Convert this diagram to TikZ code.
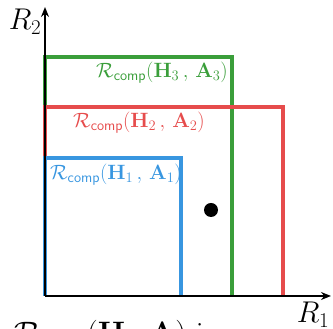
\RequirePackage{fix-cm}
\documentclass[tikz,border=0pt]{standalone}
\usepackage{amsmath}
\definecolor{cgreen}{RGB}{58,158,58}
\definecolor{cred}{RGB}{230,76,76}
\definecolor{cblue}{RGB}{56,150,224}
\tikzset{
  region/.style={line width=4.5pt},
  axis/.style={line width=1.8pt,-{Stealth[length=10pt,width=8pt]}},
  lab/.style={inner sep=0pt,font=\fontsize{20.7}{23}\selectfont},
}
\usetikzlibrary{arrows.meta}
\newcommand{\rcomp}[2]{$\mathcal{R}_{\textsf{comp}}(\mathbf{H}_{#1}\,,\,\mathbf{A}_{#2})$}
\begin{document}
\begin{tikzpicture}[x=1pt,y=1pt]
\useasboundingbox (0,0) rectangle (333,329);
\clip (0,0) rectangle (333,329);
\coordinate (O) at (45,33);
\coordinate (Ytip) at (45,322);
\coordinate (Xtip) at (331,33);
\draw[region,cgreen] (45,33) |- (232,272) -- (232,33);
\draw[region,cred] (45,33) |- (283,222) -- (283,33);
\draw[region,cblue] (45,33) |- (181,171) -- (181,33);
\draw[axis] (O) -- (Ytip);
\draw[axis] (O) -- (Xtip);
\node[lab,cgreen,anchor=east] (l3) at (228,256) {\rcomp{3}{3}};
\node[lab,cred] (l2) at (139,206) {\rcomp{2}{2}};
\node[lab,cblue,anchor=west] (l1) at (50,154) {\rcomp{1}{1}};
\fill (211,119) circle (7);
\node[font=\fontsize{30}{33}\selectfont] (r2) at (25,307) {$R_2$};
\node[font=\fontsize{30}{33}\selectfont] (r1) at (313,14) {$R_1$};
\node[anchor=base west,inner sep=0pt,font=\fontsize{31}{35}\selectfont] (bt) at (14,-15) {$\mathcal{R}_{\textsf{comp}}(\mathbf{H}\,,\,\mathbf{A})$ is};
\end{tikzpicture}
\end{document}
